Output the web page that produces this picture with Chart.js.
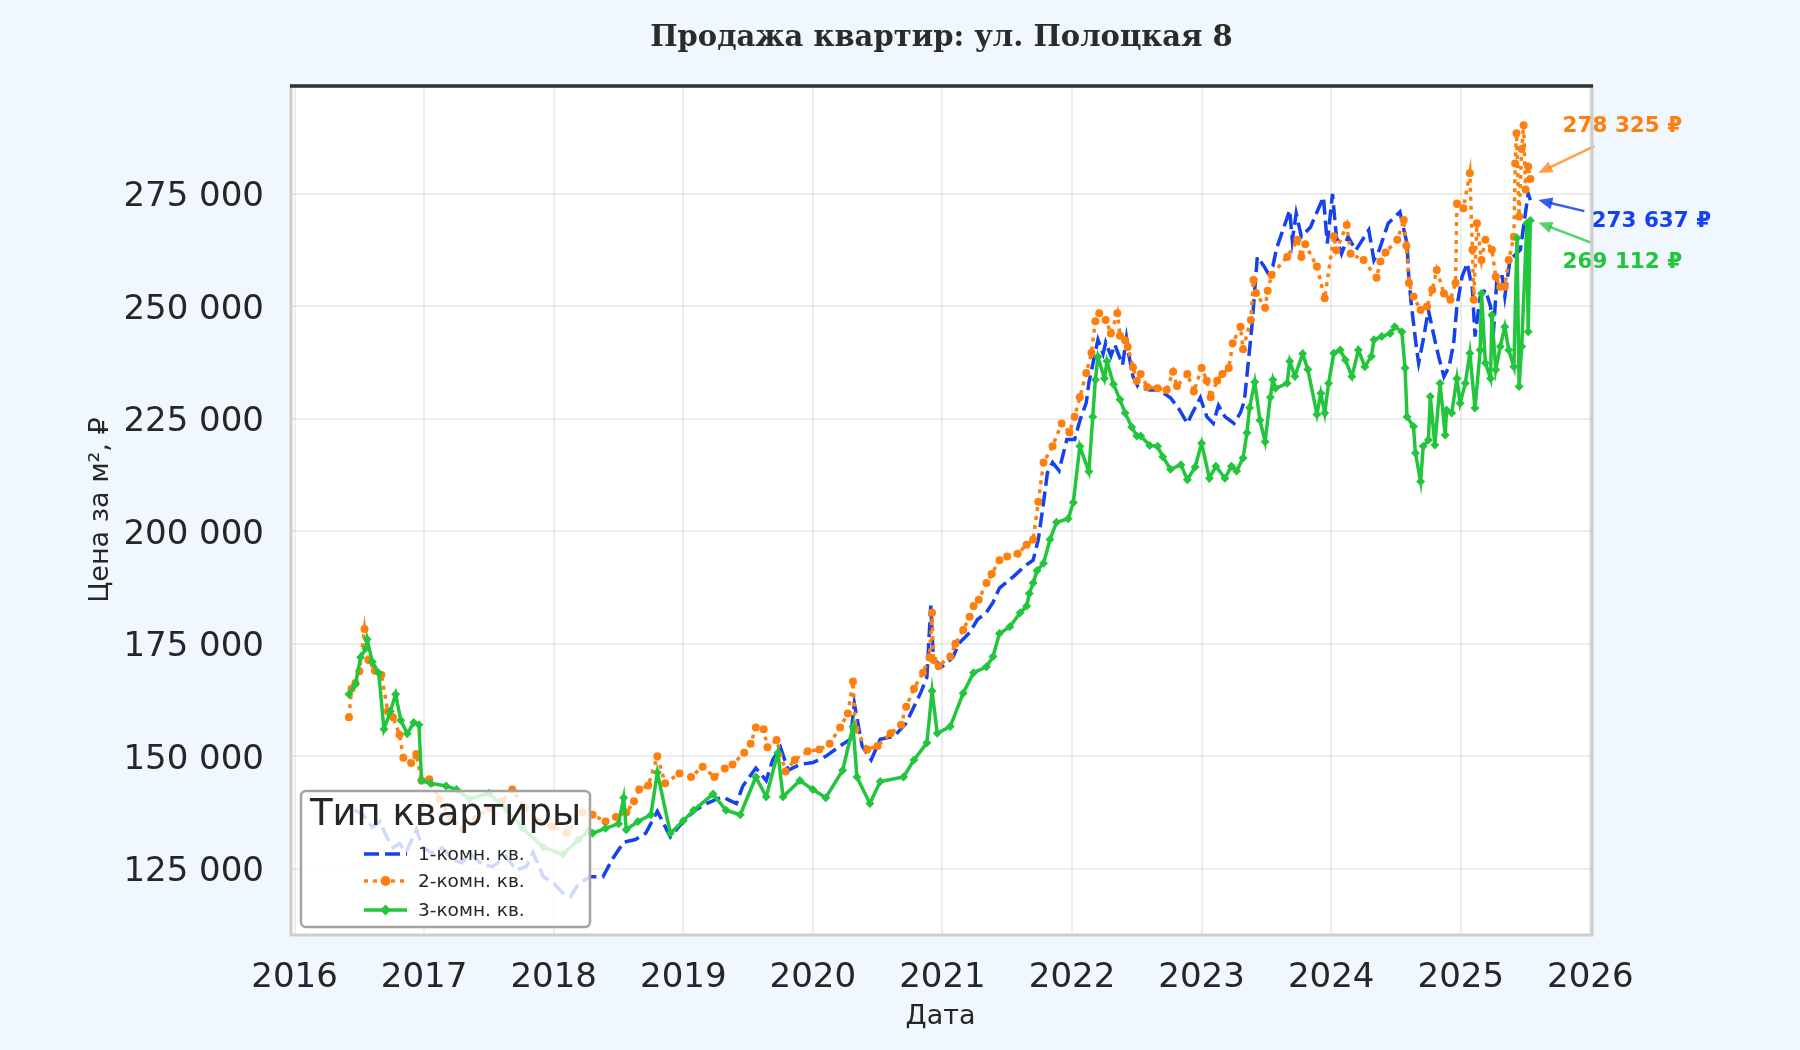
<!DOCTYPE html>
<html>
<head>
<meta charset="utf-8">
<script src="https://cdn.jsdelivr.net/npm/chart.js@4.4.1/dist/chart.umd.min.js"></script>
<style>
  html, body { margin: 0; padding: 0; background: #f0f7ff; }
  canvas { display: block; }
</style>
</head>
<body>
<canvas id="chart" width="1800" height="1050" style="width:1800px;height:1050px"></canvas>
<script>
// dates are fractional years, prices in rubles per m²
const oneRoomYears = [2016.46, 2016.53, 2016.60, 2016.66, 2016.71, 2016.76, 2016.81, 2016.86, 2016.94, 2016.99,
  2017.06, 2017.14, 2017.22, 2017.29, 2017.35, 2017.45, 2017.53, 2017.63, 2017.71, 2017.79, 2017.84, 2017.92,
  2018.00, 2018.07, 2018.13, 2018.19, 2018.28, 2018.38, 2018.45, 2018.54, 2018.63, 2018.71, 2018.80, 2018.90, 2018.97,
  2019.08, 2019.18, 2019.30, 2019.41, 2019.46, 2019.56, 2019.64, 2019.69, 2019.75, 2019.81, 2019.90,
  2020.00, 2020.10, 2020.21, 2020.29, 2020.32, 2020.38, 2020.45, 2020.52, 2020.63, 2020.72, 2020.78, 2020.83, 2020.88, 2020.91, 2020.93,
  2021.00, 2021.08, 2021.13, 2021.21, 2021.27, 2021.34, 2021.39, 2021.44, 2021.55, 2021.64, 2021.70, 2021.74, 2021.78, 2021.81, 2021.85, 2021.90, 2021.96,
  2022.02, 2022.06, 2022.11, 2022.13, 2022.20, 2022.24, 2022.26, 2022.30, 2022.33, 2022.39, 2022.42, 2022.44, 2022.47, 2022.51, 2022.60, 2022.67, 2022.76, 2022.83, 2022.89, 2022.93, 2022.99,
  2023.04, 2023.09, 2023.13, 2023.18, 2023.25, 2023.30, 2023.33, 2023.36, 2023.39, 2023.43, 2023.48, 2023.51, 2023.55, 2023.58, 2023.68, 2023.70, 2023.73, 2023.77, 2023.84, 2023.94, 2023.97,
  2024.01, 2024.04, 2024.08, 2024.13, 2024.19, 2024.29, 2024.33, 2024.37, 2024.44, 2024.53, 2024.585, 2024.60, 2024.62, 2024.66, 2024.675, 2024.71, 2024.75, 2024.80, 2024.83, 2024.87, 2024.91, 2024.945, 2024.97,
  2025.01, 2025.05, 2025.09, 2025.11, 2025.15, 2025.19, 2025.23, 2025.25, 2025.28, 2025.32, 2025.34, 2025.38, 2025.46, 2025.52, 2025.537];
const oneRoomPrices = [138100, 137000, 134200, 135500, 132100, 129700, 130600, 128600, 133700, 129700,
  128500, 129700, 127000, 126300, 128500, 125900, 125500, 127800, 124700, 125500, 128600, 123200,
  121800, 119600, 118800, 121600, 123200, 123200, 127000, 130900, 131500, 132900, 137800, 132100, 134500,
  137800, 139500, 141000, 139500, 143400, 147400, 144600, 149200, 152000, 146900, 148200,
  148600, 150000, 152300, 153800, 161700, 152300, 149200, 153800, 154500, 157400, 161000, 164000, 167600, 183500, 171500,
  170000, 172000, 175200, 177500, 180400, 182000, 184200, 187400, 190000, 192400, 193600, 198200, 206400, 213000, 215300, 213500, 220400,
  220400, 224600, 228600, 233000, 242600, 239500, 242000, 239000, 241500, 237000, 243000, 239000, 234500, 232100, 231400, 231400, 229700, 227000, 224000, 226400, 229700,
  225500, 224000, 228000, 225500, 224000, 226400, 229000, 237500, 246200, 261000, 259000, 257500, 259000, 263000, 271400, 264700, 270700, 265500, 267600, 274300, 264000,
  275000, 265500, 261700, 265500, 262500, 267000, 260300, 262500, 268500, 271000, 264000, 255900, 250000, 240300, 237400, 242500, 249200, 242500, 238800, 234400, 236600, 241800, 250000,
  256600, 259600, 253700, 243300, 252200, 253700, 250000, 243300, 256600, 256600, 252200, 260300, 262600, 275100, 273637];

const twoRoomYears = [2016.42, 2016.44, 2016.47, 2016.50, 2016.54, 2016.57, 2016.62, 2016.67, 2016.72, 2016.76, 2016.81, 2016.84, 2016.90, 2016.94, 2016.98,
  2017.04, 2017.12, 2017.20, 2017.30, 2017.40, 2017.50, 2017.60, 2017.68, 2017.78, 2017.88, 2017.99,
  2018.10, 2018.22, 2018.30, 2018.40, 2018.48, 2018.56, 2018.62, 2018.66, 2018.73, 2018.80, 2018.86, 2018.97,
  2019.06, 2019.15, 2019.24, 2019.32, 2019.38, 2019.47, 2019.52, 2019.56, 2019.62, 2019.65, 2019.72, 2019.79, 2019.86, 2019.96,
  2020.05, 2020.13, 2020.21, 2020.27, 2020.31, 2020.33, 2020.42, 2020.50, 2020.60, 2020.68, 2020.72, 2020.78, 2020.85, 2020.90, 2020.92, 2020.93, 2020.97,
  2021.06, 2021.10, 2021.16, 2021.21, 2021.24, 2021.28, 2021.34, 2021.38, 2021.44, 2021.50, 2021.58, 2021.65, 2021.70, 2021.74, 2021.78, 2021.85, 2021.92, 2021.98,
  2022.02, 2022.06, 2022.11, 2022.15, 2022.18, 2022.21, 2022.26, 2022.30, 2022.35, 2022.37, 2022.41, 2022.43, 2022.47, 2022.50, 2022.53, 2022.58, 2022.66, 2022.73, 2022.78, 2022.81, 2022.89, 2022.94,
  2023.00, 2023.04, 2023.07, 2023.12, 2023.16, 2023.21, 2023.24, 2023.30, 2023.32, 2023.38, 2023.40, 2023.42, 2023.49, 2023.51, 2023.54, 2023.66, 2023.74, 2023.77, 2023.80, 2023.89, 2023.95,
  2024.02, 2024.04, 2024.12, 2024.15, 2024.25, 2024.35, 2024.38, 2024.42, 2024.51, 2024.56, 2024.58, 2024.60, 2024.635, 2024.69, 2024.74, 2024.78, 2024.815, 2024.87, 2024.92, 2024.96, 2024.97,
  2025.02, 2025.07, 2025.09, 2025.10, 2025.125, 2025.16, 2025.19, 2025.24, 2025.27, 2025.305, 2025.34, 2025.37, 2025.41, 2025.42, 2025.43, 2025.45, 2025.47, 2025.485, 2025.50, 2025.52, 2025.537];
const twoRoomPrices = [158700, 165000, 166300, 168900, 178300, 171400, 169000, 168100, 160000, 158700, 154800, 149700, 148500, 150500, 144600,
  144900, 140500, 136500, 133700, 136000, 138500, 140000, 142600, 138500, 135500, 134400,
  133000, 137500, 137000, 135500, 136500, 137500, 140000, 142600, 143500, 150000, 144000, 146200,
  145400, 147700, 145400, 147300, 148200, 150800, 152800, 156400, 156000, 152000, 153600, 146600, 149200, 151100,
  151500, 152800, 156400, 159500, 166600, 156000, 151500, 152300, 155100, 157000, 161000, 165000, 168600, 172000, 181900, 171400, 170000,
  172200, 175000, 178100, 181000, 183400, 184800, 188500, 190500, 193600, 194400, 195000, 197000, 198200, 206600, 215300, 218900, 224000, 222000,
  225500, 229800, 235200, 239700, 246700, 248500, 247000, 244000, 248500, 243500, 242500, 241000, 236500, 233500, 235000, 232100, 231800, 231400, 235500, 232300, 235000, 231100,
  236300, 233500, 229800, 233500, 235000, 236300, 241800, 245500, 240500, 247000, 255900, 253000, 249700, 253500, 257000, 261000, 264800, 261000, 263800, 258900, 251800,
  265600, 262500, 268100, 261700, 260300, 256400, 260000, 262000, 264800, 269200, 263500, 255200, 252200, 249200, 250000, 253700, 258100, 252900, 251500, 255200, 272900,
  271800, 279600, 262600, 251500, 268500, 260300, 264800, 262600, 256600, 254400, 254400, 260300, 265500, 281800, 288500, 270000, 285000, 290300, 276000, 281100, 278325];

const threeRoomYears = [2016.42, 2016.47, 2016.51, 2016.55, 2016.56, 2016.60, 2016.65, 2016.69, 2016.74, 2016.78, 2016.82, 2016.87, 2016.92, 2016.96, 2016.98,
  2017.05, 2017.17, 2017.25, 2017.35, 2017.50, 2017.64, 2017.76, 2017.92,
  2018.07, 2018.19, 2018.27, 2018.30, 2018.40, 2018.50, 2018.54, 2018.56, 2018.65, 2018.75, 2018.80, 2018.90,
  2019.00, 2019.08, 2019.23, 2019.33, 2019.44, 2019.56, 2019.64, 2019.73, 2019.77, 2019.90,
  2020.00, 2020.10, 2020.23, 2020.31, 2020.34, 2020.44, 2020.52, 2020.70, 2020.78, 2020.88, 2020.92, 2020.96,
  2021.06, 2021.16, 2021.24, 2021.34, 2021.39, 2021.44, 2021.52, 2021.60, 2021.65, 2021.67, 2021.70, 2021.73, 2021.78, 2021.83, 2021.88, 2021.97,
  2022.01, 2022.06, 2022.13, 2022.16, 2022.18, 2022.20, 2022.25, 2022.27, 2022.32, 2022.37, 2022.41, 2022.46, 2022.50, 2022.53, 2022.60, 2022.66, 2022.70, 2022.76, 2022.84, 2022.89, 2022.95,
  2023.00, 2023.06, 2023.11, 2023.18, 2023.23, 2023.27, 2023.32, 2023.35, 2023.37, 2023.41, 2023.45, 2023.49, 2023.53, 2023.55, 2023.57, 2023.66, 2023.68, 2023.72, 2023.78, 2023.82, 2023.89, 2023.92, 2023.95, 2023.98,
  2024.02, 2024.07, 2024.11, 2024.16, 2024.21, 2024.26, 2024.31, 2024.33, 2024.39, 2024.455, 2024.49, 2024.545, 2024.57, 2024.585, 2024.635, 2024.65, 2024.69, 2024.71, 2024.75, 2024.765, 2024.80, 2024.84, 2024.88, 2024.89, 2024.93, 2024.97, 2024.995,
  2025.035, 2025.07, 2025.11, 2025.15, 2025.16, 2025.19, 2025.23, 2025.24, 2025.27, 2025.305, 2025.34, 2025.37, 2025.41, 2025.434, 2025.45, 2025.47, 2025.51, 2025.52, 2025.537];
const threeRoomPrices = [163800, 166000, 172000, 174000, 176000, 171000, 168500, 156000, 160000, 163800, 158000, 155000, 157500, 157000, 144600,
  144000, 143400, 142600, 140500, 141800, 138100, 134000, 129800,
  128200, 131400, 133500, 132900, 134000, 135000, 140800, 133700, 135500, 137000, 146400, 132900,
  135700, 138000, 141600, 138000, 137000, 145400, 141000, 150800, 141000, 144600,
  142600, 140800, 146900, 156600, 145400, 139500, 144400, 145400, 149200, 153000, 164500, 155100,
  156600, 164000, 168600, 169900, 172200, 177300, 178800, 181900, 183400, 186200, 188500, 191300, 192900, 198200, 202000, 202800,
  206400, 218900, 213300, 225500, 233700, 238800, 234000, 237800, 232700, 229300, 226300, 223200, 221200, 221200, 219100, 218900, 216600, 213800, 214800, 211500, 214300,
  219600, 211800, 214500, 211800, 214500, 213400, 216300, 221900, 227500, 233200, 224700, 219900, 229800, 233700, 231800, 232900, 237800, 234500, 239500, 236000, 226000, 230700, 226300, 232900,
  239600, 240300, 238100, 234400, 240300, 236600, 238900, 242600, 243300, 244000, 245500, 244400, 236300, 225500, 223300, 217400, 211100, 218900, 220300, 230000, 219200, 232900, 221400, 227000, 226300, 234000, 228500,
  232900, 239600, 227400, 240300, 252900, 237400, 234000, 248100, 235900, 241100, 245500, 240300, 236600, 265200, 232200, 241100, 268500, 244400, 269112];

const xTickYears = [2016, 2017, 2018, 2019, 2020, 2021, 2022, 2023, 2024, 2025, 2026];
const yTickPrices = [125000, 150000, 175000, 200000, 225000, 250000, 275000];
const seriesLabels = ['1-комн. кв.', '2-комн. кв.', '3-комн. кв.'];

const BLUE = '#1442ee';
const ORANGE = '#ff7f0e';
const GREEN = '#22c53c';
const TEXT = '#262626';
const FONT = "'DejaVu Sans', 'Noto Sans', sans-serif";

function toPoints(xs, ys) {
  return xs.map((x, i) => ({ x: x, y: ys[i] }));
}

function formatRub(v) {
  return String(Math.round(v)).replace(/\B(?=(\d{3})+(?!\d))/g, ' ');
}

// page background, white plot area
const backgroundPlugin = {
  id: 'background',
  beforeDraw(chart) {
    const { ctx, chartArea: a } = chart;
    ctx.save();
    ctx.fillStyle = '#f0f7ff';
    ctx.fillRect(0, 0, chart.width, chart.height);
    ctx.fillStyle = '#ffffff';
    ctx.fillRect(a.left, a.top, a.right - a.left, a.bottom - a.top);
    ctx.restore();
  }
};

function drawMarker(ctx, style, x, y, r, color) {
  ctx.save();
  ctx.setLineDash([]);
  ctx.fillStyle = color;
  ctx.beginPath();
  if (style === 'circle') {
    ctx.arc(x, y, r, 0, Math.PI * 2);
  } else if (style === 'rectRot') {
    ctx.moveTo(x, y - r);
    ctx.lineTo(x + r, y);
    ctx.lineTo(x, y + r);
    ctx.lineTo(x - r, y);
    ctx.closePath();
  }
  ctx.fill();
  ctx.restore();
}

function drawArrow(ctx, x0, y0, x1, y1, color) {
  const ang = Math.atan2(y1 - y0, x1 - x0);
  const head = 14, wing = 6;
  ctx.save();
  ctx.strokeStyle = color;
  ctx.fillStyle = color;
  ctx.lineWidth = 2.5;
  ctx.beginPath();
  ctx.moveTo(x0, y0);
  ctx.lineTo(x1 - Math.cos(ang) * head * 0.8, y1 - Math.sin(ang) * head * 0.8);
  ctx.stroke();
  ctx.beginPath();
  ctx.moveTo(x1, y1);
  ctx.lineTo(x1 - Math.cos(ang) * head - Math.sin(ang) * wing, y1 - Math.sin(ang) * head + Math.cos(ang) * wing);
  ctx.lineTo(x1 - Math.cos(ang) * head + Math.sin(ang) * wing, y1 - Math.sin(ang) * head - Math.cos(ang) * wing);
  ctx.closePath();
  ctx.fill();
  ctx.restore();
}

// legend box in the lower left corner and the last-value labels
const overlayPlugin = {
  id: 'overlay',
  afterDatasetsDraw(chart) {
    const { ctx, chartArea: a } = chart;

    // last-value annotations
    const notes = [
      { ds: 1, color: ORANGE, arrow: 'rgba(255,127,14,0.75)', tx: 92, ty: -53, sx: 64, sy: -33, ex: 8, ey: -6 },
      { ds: 0, color: BLUE, arrow: 'rgba(20,66,238,0.85)', tx: 121, ty: 21, sx: 54, sy: 11, ex: 8, ey: 0 },
      { ds: 2, color: GREEN, arrow: 'rgba(34,197,60,0.75)', tx: 92, ty: 42, sx: 60, sy: 22, ex: 8, ey: 2 }
    ];
    notes.forEach(n => {
      const pts = chart.data.datasets[n.ds].data;
      const last = pts[pts.length - 1];
      const px = chart.scales.x.getPixelForValue(last.x);
      const py = chart.scales.y.getPixelForValue(last.y);
      drawArrow(ctx, px + n.sx, py + n.sy, px + n.ex, py + n.ey, n.arrow);
      ctx.save();
      ctx.font = 'bold 21.5px ' + FONT;
      ctx.fillStyle = n.color;
      ctx.textAlign = 'center';
      ctx.textBaseline = 'middle';
      ctx.fillText(formatRub(last.y) + ' ₽', px + n.tx, py + n.ty);
      ctx.restore();
    });

    // legend
    const bw = 289, bh = 136;
    const bx = a.left + 11, by = a.bottom - 7 - bh;
    ctx.save();
    ctx.beginPath();
    ctx.roundRect(bx, by, bw, bh, 5);
    ctx.fillStyle = 'rgba(255,255,255,0.8)';
    ctx.fill();
    ctx.lineWidth = 2.5;
    ctx.strokeStyle = '#a3a3a3';
    ctx.stroke();

    ctx.fillStyle = TEXT;
    ctx.textBaseline = 'middle';
    ctx.textAlign = 'center';
    ctx.font = '37px ' + FONT;
    ctx.fillText('Тип квартиры', bx + bw / 2, by + 24);

    const rows = [by + 63, by + 90, by + 119];
    chart.data.datasets.forEach((ds, i) => {
      const y = rows[i];
      const x0 = bx + 63, x1 = bx + 106;
      ctx.save();
      ctx.strokeStyle = ds.borderColor;
      ctx.lineWidth = ds.borderWidth;
      ctx.setLineDash(ds.borderDash || []);
      ctx.beginPath();
      ctx.moveTo(x0, y);
      ctx.lineTo(x1, y);
      ctx.stroke();
      ctx.restore();
      if (ds.pointRadius > 0) {
        drawMarker(ctx, ds.pointStyle, (x0 + x1) / 2, y, ds.pointRadius + 1, ds.borderColor);
      }
      ctx.fillStyle = TEXT;
      ctx.textAlign = 'left';
      ctx.font = '18.5px ' + FONT;
      ctx.fillText(ds.label, bx + 117, y + 1);
    });
    ctx.restore();
  },
  afterDraw(chart) {
    const { ctx, chartArea: a } = chart;
    ctx.save();
    // frame
    ctx.strokeStyle = '#cdcdcd';
    ctx.lineWidth = 3;
    ctx.strokeRect(a.left + 1, a.top, a.right - a.left, a.bottom - a.top + 1);
    ctx.strokeStyle = '#2e3236';
    ctx.lineWidth = 3.5;
    ctx.beginPath();
    ctx.moveTo(a.left, a.top);
    ctx.lineTo(a.right + 2, a.top);
    ctx.stroke();

    // titles
    const cx = (a.left + a.right) / 2;
    ctx.fillStyle = '#2b2b2b';
    ctx.textAlign = 'center';
    ctx.textBaseline = 'middle';
    ctx.font = "bold 29px 'DejaVu Serif', serif";
    ctx.fillText('Продажа квартир: ул. Полоцкая 8', cx + 1, 38.5);

    ctx.fillStyle = TEXT;
    ctx.font = '27px ' + FONT;
    ctx.fillText('Дата', cx, 1017);

    ctx.translate(101, (a.top + a.bottom) / 2);
    ctx.rotate(-Math.PI / 2);
    ctx.fillText('Цена за м², ₽', 0, 0);
    ctx.restore();
  }
};

const ctx = document.getElementById('chart').getContext('2d');

const chart = new Chart(ctx, {
  type: 'line',
  data: {
    datasets: [
      {
        label: seriesLabels[0],
        data: toPoints(oneRoomYears, oneRoomPrices),
        borderColor: BLUE,
        backgroundColor: BLUE,
        borderWidth: 3.5,
        borderDash: [15, 6],
        pointRadius: 0,
        tension: 0,
        order: 3
      },
      {
        label: seriesLabels[1],
        data: toPoints(twoRoomYears, twoRoomPrices),
        borderColor: ORANGE,
        backgroundColor: ORANGE,
        borderWidth: 3.5,
        borderDash: [4, 5],
        pointStyle: 'circle',
        pointRadius: 4,
        pointBorderWidth: 0,
        pointBackgroundColor: ORANGE,
        tension: 0,
        order: 2
      },
      {
        label: seriesLabels[2],
        data: toPoints(threeRoomYears, threeRoomPrices),
        borderColor: GREEN,
        backgroundColor: GREEN,
        borderWidth: 3.5,
        pointStyle: 'rectRot',
        pointRadius: 4.5,
        pointBorderWidth: 0,
        pointBackgroundColor: GREEN,
        tension: 0,
        order: 1
      }
    ]
  },
  options: {
    responsive: false,
    animation: false,
    devicePixelRatio: 1,
    layout: { padding: { top: 86, right: 209, left: 0, bottom: 0 } },
    plugins: {
      legend: { display: false },
      tooltip: { enabled: false }
    },
    scales: {
      x: {
        type: 'linear',
        min: 2015.965,
        max: 2026.005,
        afterBuildTicks: (scale) => { scale.ticks = xTickYears.map(v => ({ value: v })); },
        afterFit: (scale) => { scale.height = 116; },
        ticks: {
          autoSkip: false,
          maxRotation: 0,
          padding: 24,
          color: TEXT,
          font: { family: FONT, size: 34 },
          callback: (v) => String(v)
        },
        grid: { color: 'rgba(0,0,0,0.07)', lineWidth: 2, drawTicks: false },
        border: { display: false }
      },
      y: {
        type: 'linear',
        min: 110500,
        max: 299000,
        afterBuildTicks: (scale) => { scale.ticks = yTickPrices.map(v => ({ value: v })); },
        afterFit: (scale) => { scale.width = 290; },
        ticks: {
          padding: 26,
          labelOffset: 3.5,
          color: TEXT,
          font: { family: FONT, size: 34 },
          callback: (v) => formatRub(v)
        },
        grid: { color: 'rgba(0,0,0,0.07)', lineWidth: 2, drawTicks: false },
        border: { display: false }
      }
    }
  },
  plugins: [backgroundPlugin, overlayPlugin]
});
</script>
</body>
</html>
